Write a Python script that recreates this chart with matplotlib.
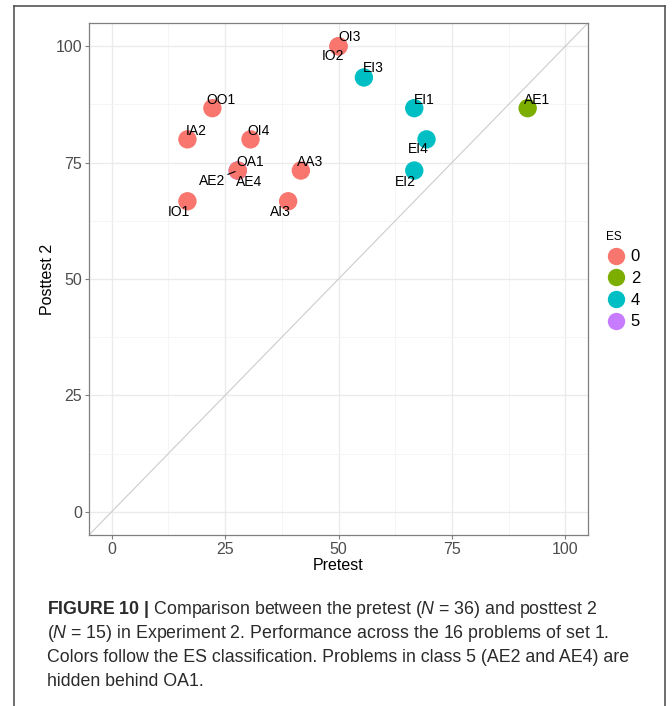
import matplotlib
matplotlib.use("Agg")
import numpy as np
from matplotlib import pyplot as plt
from matplotlib.lines import Line2D

plt.rcParams["font.family"] = ["Liberation Sans", "DejaVu Sans"]
plt.rcParams["mathtext.fontset"] = "custom"
plt.rcParams["mathtext.rm"] = "Liberation Sans"
plt.rcParams["mathtext.it"] = "Liberation Sans:italic"
plt.rcParams["mathtext.bf"] = "Liberation Sans:bold"

# problems of set 1 (pretest % of 36, posttest 2 % of 15)
problems = ["AE2", "AE4", "OI3", "IO2", "EI3", "OO1", "IA2", "OI4", "OA1",
            "AA3", "IO1", "AI3", "EI1", "EI4", "EI2", "AE1"]
pretest = [27.8, 27.8, 50.0, 50.0, 55.6, 22.2, 16.7, 30.6, 27.8,
           41.7, 16.7, 38.9, 66.7, 69.4, 66.7, 91.7]
posttest2 = [73.3, 73.3, 100.0, 100.0, 93.3, 86.7, 80.0, 80.0, 73.3,
             73.3, 66.7, 66.7, 86.7, 80.0, 73.3, 86.7]
es_class = ["5", "5", "0", "0", "4", "0", "0", "0", "0",
            "0", "0", "0", "4", "4", "4", "2"]

es_levels = ["0", "2", "4", "5"]
es_colors = {"0": "#F8766D", "2": "#7CAE00", "4": "#00BFC4", "5": "#C77CFF"}

# label offsets (points) from each point, as ggrepel placed them
label_offset = {
    "OI3": (8, 6.5), "IO2": (-4.3, -7.2), "EI3": (6.5, 6.5), "OO1": (6.5, 5.8),
    "IA2": (6.5, 5.8), "OI4": (5.8, 5.8), "OA1": (8.6, 6.5), "AE2": (-18.7, -7.2),
    "AE4": (7.9, -8.6), "AA3": (6.5, 5.8), "IO1": (-6.5, -7.9), "AI3": (-5.8, -7.9),
    "EI1": (7.2, 5.8), "EI4": (-5.8, -7.2), "EI2": (-6.5, -7.9), "AE1": (6.5, 5.8),
}

W, H = 672, 706
fig = plt.figure(figsize=(W / 100, H / 100), dpi=100)
ax = fig.add_axes([89 / W, 1 - 535 / H, (588 - 89) / W, (535 - 23) / H])

ax.set_xlim(-5, 105)
ax.set_ylim(-5, 105)
ax.set_xticks([0, 25, 50, 75, 100])
ax.set_yticks([0, 25, 50, 75, 100])
ax.set_xticks([12.5, 37.5, 62.5, 87.5], minor=True)
ax.set_yticks([12.5, 37.5, 62.5, 87.5], minor=True)
ax.grid(which="major", color="#EBEBEB", lw=1.0, zorder=0)
ax.grid(which="minor", color="#F4F4F4", lw=0.6, zorder=0)
ax.set_axisbelow(True)
for s in ax.spines.values():
    s.set_color("#7F7F7F")
    s.set_linewidth(0.9)
ax.tick_params(which="major", length=3, color="#7F7F7F", labelsize=11.5,
               labelcolor="#4D4D4D", pad=2)
ax.tick_params(which="minor", length=0)

ax.plot([-5, 105], [-5, 105], color="#CCCCCC", lw=0.8, zorder=1)

for name, x, y, c in zip(problems, pretest, posttest2, es_class):
    ax.scatter(x, y, s=175, color=es_colors[c], edgecolors="none", zorder=3)

for name, x, y in zip(problems, pretest, posttest2):
    dx, dy = label_offset[name]
    kw = {}
    if name == "AE2":
        kw["arrowprops"] = dict(arrowstyle="-", color="black", lw=0.8,
                                shrinkA=0, shrinkB=2)
    ax.annotate(name, (x, y), xytext=(dx, dy), textcoords="offset points",
                ha="center", va="center", fontsize=10, color="black",
                zorder=4, **kw)

ax.set_xlabel("Pretest", fontsize=11.5, labelpad=1)
ax.set_ylabel("Posttest 2", fontsize=11.5, labelpad=0)

handles = [Line2D([], [], marker="o", ls="none", markersize=12.5,
                  markerfacecolor=es_colors[l], markeredgecolor="none")
           for l in es_levels]
leg = fig.legend(handles, es_levels, title="ES", loc="upper left",
                 bbox_to_anchor=(599 / W, 1 - 224 / H), frameon=False,
                 fontsize=12, title_fontsize=8.5, handletextpad=0.3,
                 labelspacing=0.4, borderaxespad=0, handlelength=1.2)
leg._legend_box.align = "left"

# outer frame of the figure panel
fig.add_artist(Line2D([14 / W, 14 / W], [0, 1 - 6 / H], color="#555555",
                      lw=1.2, transform=fig.transFigure))
fig.add_artist(Line2D([14 / W, 665 / W], [1 - 6 / H, 1 - 6 / H], color="#555555",
                      lw=1.2, transform=fig.transFigure))
fig.add_artist(Line2D([665 / W, 665 / W], [0, 1 - 6 / H], color="#555555",
                      lw=1.2, transform=fig.transFigure))

caption = [
    r"$\mathbf{FIGURE\ 10\ |}$ Comparison between the pretest ($\mathit{N}$ = 36) and posttest 2",
    r"($\mathit{N}$ = 15) in Experiment 2. Performance across the 16 problems of set 1.",
    "Colors follow the ES classification. Problems in class 5 (AE2 and AE4) are",
    "hidden behind OA1.",
]
for i, line in enumerate(caption):
    fig.text(47 / W, 1 - (610 + 24 * i) / H, line, fontsize=12.8,
             color="#2a2a2a", va="center", ha="left")

fig.savefig("out.png", dpi=100)
